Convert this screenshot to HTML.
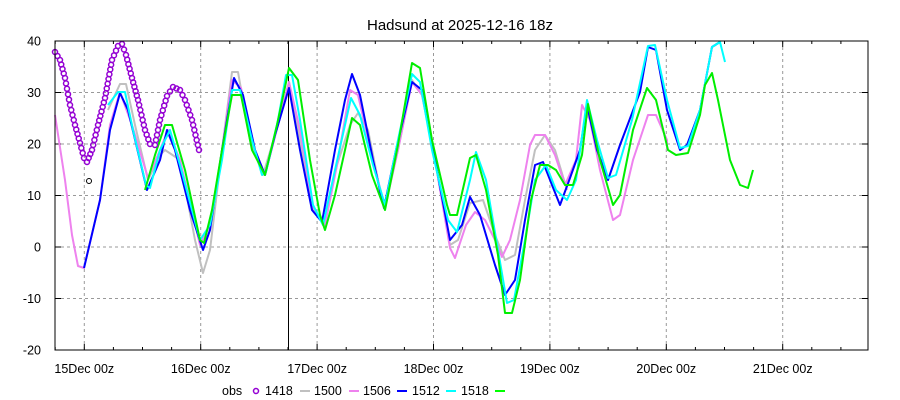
<!DOCTYPE html>
<html><head><meta charset="utf-8"><style>
body{margin:0;background:#fff}
svg{display:block;font-family:"Liberation Sans",sans-serif}
</style></head><body>
<svg id="s" width="900" height="400" viewBox="0 0 900 400">
<rect width="900" height="400" fill="#fff"/>
<text x="460" y="30" font-size="15" text-anchor="middle">Hadsund at 2025-12-16 18z</text>
<g id="grid" stroke="#999" stroke-dasharray="3,3" stroke-width="1"></g>
<g id="ticks" stroke="#000" stroke-width="1"></g>
<g id="labels" font-size="12.5"></g>
<line x1="288.5" y1="41" x2="288.5" y2="350" stroke="#000" stroke-width="1"/>
<g id="series" fill="none" stroke-width="2" stroke-linejoin="round"></g>
<g id="obs" fill="none" stroke="#9400d3" stroke-width="1.5"></g>
<rect x="55" y="41" width="813" height="309" fill="none" stroke="#000" stroke-width="1"/>
<g font-size="12.5">
<text x="222" y="395">obs</text>
<circle cx="256" cy="391" r="2.5" fill="none" stroke="#9400d3" stroke-width="1.5"/>
<text x="265" y="395">1418</text>
<line x1="300" y1="391" x2="310" y2="391" stroke="#c0c0c0" stroke-width="2"/>
<text x="314" y="395">1500</text>
<line x1="349" y1="391" x2="359" y2="391" stroke="#ee82ee" stroke-width="2"/>
<text x="363" y="395">1506</text>
<line x1="397" y1="391" x2="407" y2="391" stroke="#0000ff" stroke-width="2"/>
<text x="412" y="395">1512</text>
<line x1="446" y1="391" x2="456" y2="391" stroke="#00ffff" stroke-width="2"/>
<text x="461" y="395">1518</text>
<line x1="495" y1="391" x2="505" y2="391" stroke="#00ff00" stroke-width="2"/>
</g>
</svg>
<script>
var NS="http://www.w3.org/2000/svg";
function el(p,t,a,txt){var e=document.createElementNS(NS,t);for(var k in a)e.setAttribute(k,a[k]);if(txt)e.textContent=txt;document.getElementById(p).appendChild(e);return e;}
var L=55,R=868,T=41,B=350;
function Y(v){return 41+(40-v)*5.15;}
for(var v=-20;v<=40;v+=10){var y=Y(v);
 if(v>-20&&v<40)el("grid","line",{x1:L,x2:R,y1:y,y2:y});
 el("ticks","line",{x1:L,x2:L+6,y1:y,y2:y});el("ticks","line",{x1:R-6,x2:R,y1:y,y2:y});
 el("labels","text",{x:41,y:y+4.5,"text-anchor":"end"},String(v));}
var days=["15Dec 00z","16Dec 00z","17Dec 00z","18Dec 00z","19Dec 00z","20Dec 00z","21Dec 00z"];
for(var i=-1;i<=7;i++){var x0=84.3+i*116.4;
 for(var q=0;q<4;q++){var x=x0+q*29.1;if(x<=L||x>=R)continue;
  var len=q==0?6:3;
  el("ticks","line",{x1:x,x2:x,y1:B,y2:B-len});el("ticks","line",{x1:x,x2:x,y1:T,y2:T+len});}
 if(i>=0&&i<7){el("grid","line",{x1:x0,x2:x0,y1:T,y2:B});
  el("labels","text",{x:x0,y:373,"text-anchor":"middle"},days[i]);}}
var S={
"#c0c0c0":[[108,110],[120,84],[126,84],[135,125],[148,180],[160,155],[165,150],[180,160],[195,240],[203,273],[210,250],[222,150],[232,72],[238,72],[250,140],[263,175],[278,125],[289,82],[300,140],[313,210],[323,222],[337,165],[350,125],[358,113],[368,130],[380,190],[385,205],[398,150],[412,80],[422,95],[435,160],[450,245],[458,240],[470,203],[483,200],[495,235],[505,260],[515,255],[525,200],[535,150],[545,135],[555,150],[567,190]],
"#ee82ee":[[55,115],[65,180],[72,235],[78,266],[84,268],[100,200],[110,125],[120,92],[132,125],[148,178],[160,150],[168,130],[180,160],[200,245],[210,225],[222,150],[232,80],[241,88],[255,150],[265,175],[278,125],[289,82],[300,130],[313,210],[325,225],[337,165],[350,90],[358,95],[373,160],[385,208],[398,150],[412,82],[422,95],[435,160],[450,248],[455,258],[466,225],[475,212],[485,220],[495,240],[502,257],[510,240],[520,200],[530,145],[535,135],[545,135],[555,155],[565,185],[576,160],[582,105],[590,120],[600,170],[613,220],[620,215],[633,160],[648,115],[656,115],[667,140],[667,150]],
"#0000ff":[[84,268],[100,200],[110,130],[120,93],[128,110],[147,190],[160,160],[167,130],[175,150],[190,210],[203,250],[210,230],[222,150],[234,78],[243,95],[255,150],[265,175],[275,135],[289,88],[300,150],[312,210],[322,222],[335,150],[345,100],[352,74],[360,95],[373,160],[384,208],[396,150],[412,82],[422,90],[435,160],[450,240],[462,225],[470,197],[480,215],[495,265],[505,295],[515,280],[525,220],[535,165],[543,162],[552,185],[560,205],[570,178],[580,150],[587,105],[597,150],[608,180],[620,145],[640,92],[648,47],[656,50],[667,110],[680,150],[687,145],[700,110],[712,47],[720,42]],
"#00ffff":[[108,105],[118,92],[125,92],[133,130],[146,185],[150,188],[160,150],[170,130],[180,165],[200,240],[210,225],[222,160],[232,90],[240,90],[252,140],[262,175],[266,172],[278,120],[286,75],[292,75],[300,120],[313,205],[323,225],[335,170],[345,125],[351,98],[360,115],[373,165],[385,205],[398,140],[412,74],[420,82],[432,150],[448,220],[457,232],[470,180],[476,152],[486,180],[498,250],[507,303],[514,300],[525,240],[535,180],[546,165],[556,190],[567,200],[576,180],[587,100],[597,140],[608,178],[616,175],[632,120],[648,46],[655,45],[667,100],[680,148],[688,146],[700,110],[712,47],[720,42],[725,62]],
"#00ee00":[[145,190],[155,155],[165,125],[172,125],[185,170],[200,240],[204,243],[212,210],[222,150],[232,95],[241,95],[252,150],[265,175],[277,125],[289,68],[298,80],[310,160],[320,215],[325,230],[335,195],[345,150],[352,118],[360,125],[372,175],[385,210],[398,145],[412,63],[420,68],[432,140],[447,205],[450,215],[457,215],[470,158],[476,155],[486,190],[498,255],[505,313],[512,313],[520,280],[531,200],[540,165],[548,165],[556,170],[565,185],[573,185],[582,155],[588,104],[600,160],[613,205],[620,195],[633,130],[647,88],[656,100],[668,150],[676,155],[688,153],[700,115],[705,85],[712,73],[718,100],[730,160],[740,185],[748,188],[753,170]]};
for(var c in S){el("series","polyline",{stroke:c,points:S[c].map(function(p){return p.join(",")}).join(" ")});}
var O=[[55,52],[60,60],[65,78],[70,105],[75,125],[80,143],[84,158],[87,162],[92,150],[98,125],[105,98],[112,60],[118,46],[122,44],[126,55],[132,78],[138,100],[145,130],[150,144],[155,145],[160,120],[167,96],[173,87],[180,90],[185,100],[192,120],[199,150],[202,150]];
for(var i=0;i<O.length-1;i++){var a=O[i],b=O[i+1];var d=Math.hypot(b[0]-a[0],b[1]-a[1]);var n=Math.max(1,Math.round(d/5));
 for(var k=0;k<n;k++){var t=k/n;el("obs","circle",{cx:a[0]+(b[0]-a[0])*t,cy:a[1]+(b[1]-a[1])*t,r:2.5});}}
el("obs","circle",{cx:89,cy:181,r:2.5,stroke:"#000","stroke-width":1});
</script>
</body></html>
